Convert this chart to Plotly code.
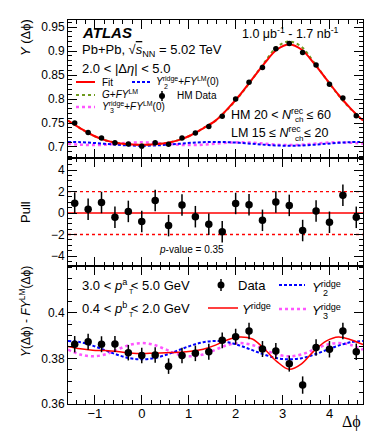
import plotly.graph_objects as go

# bin centres (delta phi) of the 22 data points
dphi = [-1.428, -1.142, -0.857, -0.571, -0.286, 0.0, 0.286, 0.571, 0.857, 1.142, 1.428,
        1.714, 2.0, 2.285, 2.571, 2.856, 3.142, 3.427, 3.713, 3.998, 4.284, 4.569]

# top panel: HM data
y_hm = [0.750, 0.730, 0.719, 0.709, 0.706, 0.7015, 0.709, 0.7055, 0.719, 0.729, 0.743,
        0.764, 0.800, 0.835, 0.866, 0.905, 0.916, 0.897, 0.871, 0.831, 0.802, 0.765]

# middle panel: pulls
pull = [0.92, 0.34, 0.98, -0.40, 0.15, -0.80, 1.17, -1.17, 0.74, -0.34, -1.05,
        -1.75, 0.89, 0.77, -0.68, 1.02, 0.71, -1.63, 0.18, -0.86, 1.66, -0.40]
pull_err = [1, 1, 1, 1, 1, 1, 1, 1, 1, 1, 1, 1, 1, 1, 1, 1, 1, 1, 1, 1, 1, 1]

# bottom panel: ridge data
y_ridge = [0.3862, 0.3873, 0.3862, 0.3863, 0.3825, 0.3813, 0.3815, 0.3766, 0.3813, 0.3822, 0.3829,
           0.3879, 0.3895, 0.3920, 0.3841, 0.3832, 0.3777, 0.3683, 0.3848, 0.3840, 0.3920, 0.3829]
y_ridge_err = [0.0036, 0.0035, 0.0035, 0.0035, 0.0034, 0.0034, 0.0034, 0.0034, 0.0034, 0.0034, 0.0035,
               0.0035, 0.0035, 0.0036, 0.0035, 0.0035, 0.0035, 0.0038, 0.0036, 0.0036, 0.0036, 0.0036]

# curves, read on a grid of delta phi
phi_c = [-1.571, -1.309, -1.047, -0.785, -0.524, -0.262, 0.0, 0.262, 0.524, 0.785, 1.047, 1.309,
         1.571, 1.833, 2.094, 2.356, 2.618, 2.880, 3.142, 3.403, 3.665, 3.927, 4.189, 4.451, 4.712]
fit_top = [0.755, 0.739, 0.7245, 0.7143, 0.7085, 0.7056, 0.7045, 0.7056, 0.7085, 0.7143, 0.7245, 0.739,
           0.755, 0.780, 0.809, 0.842, 0.875, 0.9035, 0.914, 0.9035, 0.875, 0.842, 0.809, 0.780, 0.755]
g_fy_top = [0.755, 0.739, 0.7245, 0.7143, 0.7085, 0.7056, 0.7045, 0.7056, 0.7085, 0.7143, 0.7245, 0.739,
            0.755, 0.779, 0.808, 0.842, 0.877, 0.909, 0.920, 0.909, 0.877, 0.842, 0.808, 0.779, 0.755]
y2_top = [0.7106, 0.7101, 0.7086, 0.7066, 0.7046, 0.7031, 0.7026, 0.7031, 0.7046, 0.7066, 0.7086, 0.7101,
          0.7106, 0.7101, 0.7086, 0.7066, 0.7046, 0.7031, 0.7026, 0.7031, 0.7046, 0.7066, 0.7086, 0.7101, 0.7106]
y3_top = [0.7068, 0.7047, 0.7039, 0.7047, 0.7068, 0.7089, 0.7097, 0.7089, 0.7068, 0.7047, 0.7039, 0.7047,
          0.7068, 0.7089, 0.7097, 0.7089, 0.7068, 0.7047, 0.7039, 0.7047, 0.7068, 0.7089, 0.7097, 0.7089, 0.7068]
ridge_fit = [0.3852, 0.3842, 0.3836, 0.3834, 0.3830, 0.3824, 0.3821, 0.3823, 0.3825, 0.3827, 0.3831, 0.3840,
             0.3858, 0.3882, 0.3894, 0.3885, 0.3840, 0.3786, 0.3752, 0.3776, 0.3832, 0.3876, 0.3894, 0.3882, 0.3860]
ridge_y2 = [0.3876, 0.3871, 0.3856, 0.3836, 0.3816, 0.3801, 0.3796, 0.3801, 0.3816, 0.3836, 0.3856, 0.3871,
            0.3876, 0.3871, 0.3856, 0.3836, 0.3816, 0.3801, 0.3796, 0.3801, 0.3816, 0.3836, 0.3856, 0.3871, 0.3876]
ridge_y3 = [0.3838, 0.3817, 0.3809, 0.3817, 0.3838, 0.3859, 0.3867, 0.3859, 0.3838, 0.3817, 0.3809, 0.3817,
            0.3838, 0.3859, 0.3867, 0.3859, 0.3838, 0.3817, 0.3809, 0.3817, 0.3838, 0.3859, 0.3867, 0.3859, 0.3838]
pull_lines = [-2, 0, 2]

# tick labels
top_ticks = [0.7, 0.75, 0.8, 0.85, 0.9, 0.95]
pull_ticks = [-4, -2, 0, 2, 4]
ridge_ticks = [0.36, 0.38, 0.4]

RED = "#ff0000"
BLUE = "#0000ff"
MAG = "#ff55ff"
GRN = "#6e9a1e"
FONT = "Liberation Sans"
NB = "\u00a0"

# plot area in pixels: x 60..355, y 12..396
def px(x):
    return (x - 60) / 295.0

def py(y):
    return (396 - y) / 384.0

fig = go.Figure()

spl = dict(shape="spline", smoothing=1.0)

# top panel
fig.add_trace(go.Scatter(x=phi_c, y=y3_top, mode="lines", xaxis="x3", yaxis="y",
                         line=dict(color=MAG, width=2.5, dash="dot", **spl)))
fig.add_trace(go.Scatter(x=phi_c, y=y2_top, mode="lines", xaxis="x3", yaxis="y",
                         line=dict(color=BLUE, width=2, dash="3px,2px", **spl)))
fig.add_trace(go.Scatter(x=phi_c, y=g_fy_top, mode="lines", xaxis="x3", yaxis="y",
                         line=dict(color=GRN, width=2, dash="dot", **spl)))
fig.add_trace(go.Scatter(x=phi_c, y=fit_top, mode="lines", xaxis="x3", yaxis="y",
                         line=dict(color=RED, width=2, **spl)))
fig.add_trace(go.Scatter(x=dphi, y=y_hm, mode="markers", xaxis="x3", yaxis="y",
                         marker=dict(color="black", size=5.5)))

# pull panel
for v in pull_lines:
    fig.add_trace(go.Scatter(x=[phi_c[0], phi_c[-1]], y=[v, v], mode="lines", xaxis="x2", yaxis="y2",
                             line=dict(color=RED, width=1.5 if v == 0 else 1.3,
                                       dash="solid" if v == 0 else "dot")))
fig.add_trace(go.Scatter(x=dphi, y=pull, mode="markers", xaxis="x2", yaxis="y2",
                         marker=dict(color="black", size=7.5),
                         error_y=dict(type="data", array=pull_err, color="black", thickness=1.5, width=0)))

# bottom panel
fig.add_trace(go.Scatter(x=phi_c, y=ridge_y3, mode="lines", xaxis="x", yaxis="y3",
                         line=dict(color=MAG, width=2.5, dash="dot", **spl)))
fig.add_trace(go.Scatter(x=phi_c, y=ridge_y2, mode="lines", xaxis="x", yaxis="y3",
                         line=dict(color=BLUE, width=2, dash="3px,2px", **spl)))
fig.add_trace(go.Scatter(x=phi_c, y=ridge_fit, mode="lines", xaxis="x", yaxis="y3",
                         line=dict(color=RED, width=1.5, **spl)))
fig.add_trace(go.Scatter(x=dphi, y=y_ridge, mode="markers", xaxis="x", yaxis="y3",
                         marker=dict(color="black", size=7.5),
                         error_y=dict(type="data", array=y_ridge_err, color="black", thickness=1.5, width=0)))

xrange = [-1.5708, 4.7124]
common_x = dict(range=xrange, showline=True, linecolor="black", linewidth=1, mirror="allticks",
                ticks="inside", ticklen=9, tickcolor="black", dtick=1, tick0=0,
                minor=dict(ticks="inside", ticklen=4, dtick=0.2, tick0=0, tickcolor="black"),
                showgrid=False, zeroline=False)
common_y = dict(showline=True, linecolor="black", linewidth=1, mirror="allticks",
                ticks="inside", ticklen=9, tickcolor="black", showgrid=False, zeroline=False,
                tickmode="array", tickfont=dict(family=FONT, size=12, color="black"))

d1 = 138 / 384.0
d2 = 246 / 384.0

fig.update_layout(
    width=374, height=431,
    margin=dict(l=60, r=19, t=12, b=35),
    paper_bgcolor="white", plot_bgcolor="white",
    showlegend=False,
    font=dict(family=FONT, color="black"),
    xaxis=dict(domain=[0, 1], anchor="y3", ticklabelstandoff=-3,
               tickfont=dict(family=FONT, size=13, color="black"), **common_x),
    xaxis2=dict(domain=[0, 1], anchor="y2", matches="x", showticklabels=False, **common_x),
    xaxis3=dict(domain=[0, 1], anchor="y", matches="x", showticklabels=False, **common_x),
    yaxis=dict(domain=[d2, 1], anchor="x3", range=[0.677, 0.965], tickvals=top_ticks,
               ticktext=["0.7", "0.75", "0.8", "0.85", "0.9", "0.95"],
               minor=dict(ticks="inside", ticklen=4, dtick=0.01, tick0=0.7, tickcolor="black"), **common_y),
    yaxis2=dict(domain=[d1, d2], anchor="x2", range=[-4.93, 5.12], tickvals=pull_ticks,
                minor=dict(ticks="inside", ticklen=4, dtick=0.5, tick0=0, tickcolor="black"), **common_y),
    yaxis3=dict(domain=[0, d1], anchor="x", range=[0.36, 0.4205], tickvals=ridge_ticks,
                ticktext=["0.36", "0.38", "0.4"],
                minor=dict(ticks="inside", ticklen=4, dtick=0.005, tick0=0.36, tickcolor="black"), **common_y),
)

ann = []

def text(x, y, s, size=12, xanchor="left", angle=0, family=FONT):
    ann.append(dict(x=px(x), y=py(y), xref="paper", yref="paper", text=s, showarrow=False,
                    xanchor=xanchor, yanchor="middle", textangle=angle, borderpad=0,
                    font=dict(family=family, size=size, color="black")))

shapes = []

def seg(x0, x1, y, color, width, dash="solid"):
    shapes.append(dict(type="line", xref="paper", yref="paper", x0=px(x0), x1=px(x1), y0=py(y), y1=py(y),
                       line=dict(color=color, width=width, dash=dash)))

def marker(x, y, r, bar):
    shapes.append(dict(type="circle", xref="paper", yref="paper", x0=px(x - r), x1=px(x + r),
                       y0=py(y + r), y1=py(y - r), fillcolor="black", line=dict(color="black", width=0)))
    shapes.append(dict(type="line", xref="paper", yref="paper", x0=px(x), x1=px(x),
                       y0=py(y + bar), y1=py(y - bar), line=dict(color="black", width=1.5)))

# top panel texts
text(73, 24, "<b><i>ATLAS</i></b>", 15)
text(73, 43, "Pb+Pb, √<span style='text-decoration:overline'><i>s</i></span><sub>NN</sub> = 5.02 TeV", 13)
text(73, 61, "2.0 < |Δ<i>η</i>| < 5.0", 13)
text(233, 25, "1.0 μb<sup>-1</sup> - 1.7 nb<sup>-1</sup>", 12.5)
text(222, 106, "HM 20 < <i>N</i><sup>rec</sup>" + NB + "≤ 60", 12.5)
text(222, 124, "LM 15 ≤ <i>N</i><sup>rec</sup>" + NB + "≤ 20", 12.5)
text(286, 112, "ch", 8)
text(286, 130, "ch", 8)

# top legend
seg(68, 87, 74, RED, 2)
text(93, 74, "Fit", 10)
seg(124, 143, 74, BLUE, 2, "3px,2px")
text(147, 73, "<i>Y</i><sup>ridge</sup>+<i>FY</i><sup>LM</sup>(0)", 10)
text(155, 78, "2", 7)
seg(68, 87, 87, GRN, 2, "dot")
text(93, 86, "<i>G</i>+<i>FY</i><sup>LM</sup>", 10)
marker(154, 88, 3, 5)
text(168, 88, "HM Data", 10)
seg(68, 87, 99, MAG, 2.5, "dot")
text(93, 98, "<i>Y</i><sup>ridge</sup>+<i>FY</i><sup>LM</sup>(0)", 10)
text(101, 103, "3", 7)

# pull panel text
text(150, 242, "<i>p</i>-value = 0.35", 10)

# bottom legend
text(73, 277, "3.0 < <i>p</i><sup>a</sup> < 5.0 GeV", 13)
text(120, 283, "T", 7)
text(73, 300, "0.4 < <i>p</i><sup>b</sup> < 2.0 GeV", 13)
text(120, 306, "T", 7)
marker(213, 277, 3.5, 6)
text(229, 277, "Data", 13)
seg(271, 297, 277, BLUE, 2, "3px,2px")
text(303, 279, "<i>Y</i><sup>ridge</sup>", 13)
text(314, 285, "2", 9)
seg(200, 230, 300, RED, 1.5)
text(233, 301, "<i>Y</i><sup>ridge</sup>", 13)
seg(271, 299, 301, MAG, 2.5, "dot")
text(303, 302, "<i>Y</i><sup>ridge</sup>", 13)
text(314, 308, "3", 9)

# axis titles
text(17, 30, "<i>Y</i> (Δϕ)", 13, xanchor="center", angle=-90)
text(17, 204, "Pull", 13, xanchor="center", angle=-90)
text(17, 304, "<i>Y</i>(Δϕ) - <i>FY</i><sup>LM</sup>(Δϕ)", 12, xanchor="center", angle=-90)
text(343, 414, "Δϕ", 16, xanchor="center", family="Liberation Serif")

fig.update_layout(annotations=ann, shapes=shapes)

fig.write_html("out.html")
